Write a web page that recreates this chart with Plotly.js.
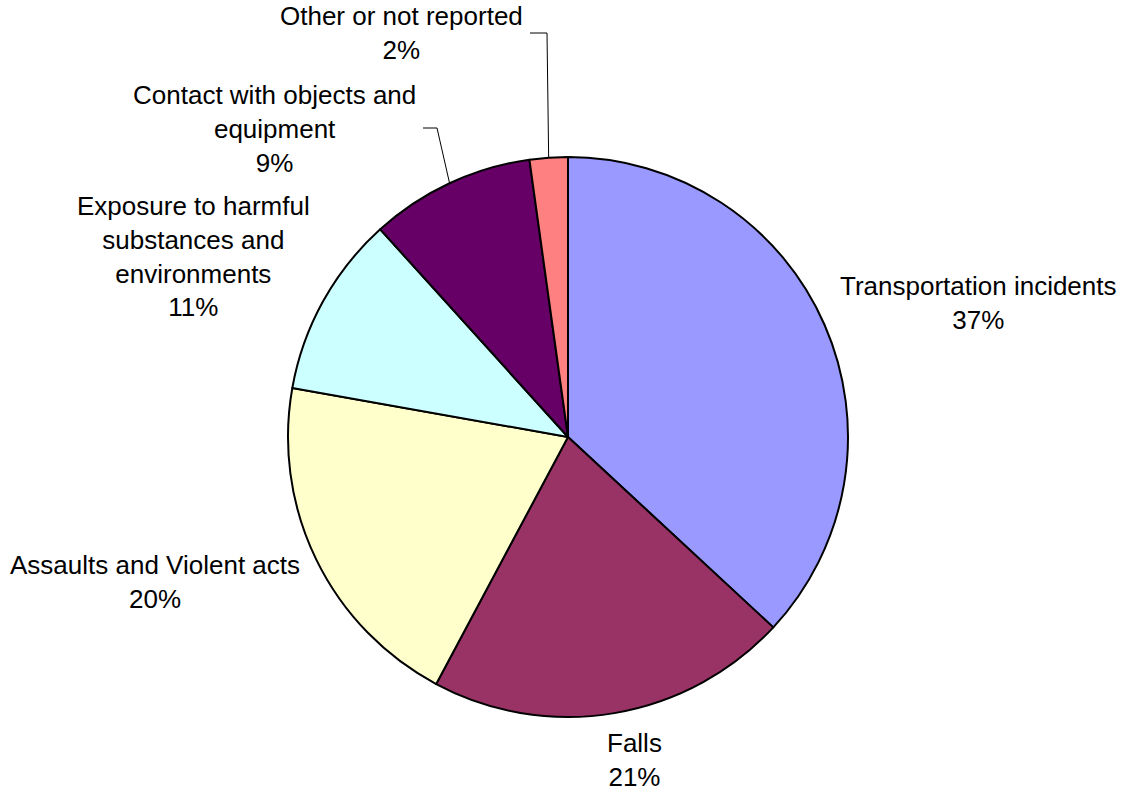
<!DOCTYPE html>
<html>
<head>
<meta charset="utf-8">
<script src="https://cdn.plot.ly/plotly-3.0.1.min.js"></script>
<style>html,body{margin:0;padding:0;background:#fff;}#chart{width:1121px;height:787px;}</style>
</head>
<body>
<div id="chart"></div>
<script>
// ---- data ----
const categories = ["Transportation incidents", "Falls", "Assaults and Violent acts",
  "Exposure to harmful<br>substances and<br>environments", "Contact with objects and<br>equipment", "Other or not reported"];
const shares = [36.9, 20.9, 20.0, 10.5, 9.5, 2.2];
const shareLabels = ["37%", "21%", "20%", "11%", "9%", "2%"];
const colors = ["#9999FF", "#993366", "#FFFFCC", "#CCFFFF", "#660066", "#FF8080"];

// ---- layout geometry ----
const W = 1121, H = 787;
const cx = 568, cy = 437, R = 280;
const px = (x, y) => [x / W, 1 - y / H];

// label centres (pixels) for each category
const labelPos = [[978, 303], [634, 760], [155, 582], [193, 257], [274, 129], [401, 33]];

const annotations = categories.map((c, i) => {
  const p = px(labelPos[i][0], labelPos[i][1]);
  return {
    x: p[0], y: p[1], xref: 'paper', yref: 'paper',
    text: c + '<br>' + shareLabels[i], showarrow: false,
    xanchor: 'center', yanchor: 'middle', align: 'center',
    font: {family: 'Liberation Sans, Arial, sans-serif', size: 26, color: '#000'}
  };
});

// leader lines to slice mid-points computed from the data
const total = shares.reduce((a, b) => a + b, 0);
const cum = [];
let acc = 0;
shares.forEach(v => { cum.push(acc); acc += v; });
function edgePoint(i) {
  const mid = (cum[i] + shares[i] / 2) / total * 2 * Math.PI;
  return [cx + R * Math.sin(mid), cy - R * Math.cos(mid)];
}
const leaders = [
  {i: 5, start: [530, 33], knee: [547, 33]},
  {i: 4, start: [423, 128], knee: [437, 128]}
];
const shapes = leaders.map(l => {
  const e = edgePoint(l.i);
  const a = px(l.start[0], l.start[1]), b = px(l.knee[0], l.knee[1]), c = px(e[0], e[1]);
  return {
    type: 'path', xref: 'paper', yref: 'paper',
    path: `M ${a[0]} ${a[1]} L ${b[0]} ${b[1]} L ${c[0]} ${c[1]}`,
    line: {color: '#000', width: 1}
  };
});

const d0 = px(cx - R, cy + R), d1 = px(cx + R, cy - R);
const trace = {
  type: 'pie',
  labels: categories,
  values: shares,
  sort: false,
  direction: 'clockwise',
  rotation: 0,
  textinfo: 'none',
  hoverinfo: 'skip',
  marker: {colors: colors, line: {color: '#000', width: 2}},
  domain: {x: [d0[0], d1[0]], y: [d0[1], d1[1]]}
};

Plotly.newPlot('chart', [trace], {
  width: W, height: H,
  margin: {l: 0, r: 0, t: 0, b: 0},
  showlegend: false,
  paper_bgcolor: '#fff',
  annotations: annotations,
  shapes: shapes
}, {staticPlot: true});
</script>
</body>
</html>
